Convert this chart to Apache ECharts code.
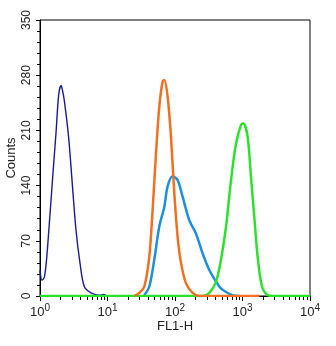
<!DOCTYPE html>
<html>
<head>
<meta charset="utf-8">
<script src="https://cdn.jsdelivr.net/npm/echarts@6/dist/echarts.min.js"></script>
<style>
  html, body { margin: 0; padding: 0; background: #fff; }
  #chart { width: 336px; height: 346px; }
</style>
</head>
<body>
<div id="chart"></div>
<script>
// values (FL1-H, counts)
var navyX = [1, 1.07, 1.16, 1.25, 1.41, 1.57, 1.73, 1.89, 2.05, 2.14, 2.29, 2.65, 2.98, 3.41, 3.91, 4.53, 5.7, 7.56, 8.67, 9.9];
var navyY = [33, 20, 24, 46, 105, 160, 208, 255, 267, 262, 248, 202, 147, 84, 42, 12, 4, 1, 2, 0];

var orangeX = [24.9, 29.6, 35.1, 41.6, 46.6, 52.3, 58.5, 65.5, 69.4, 77.7, 87.2, 97.7, 109.4, 122.8, 145.6, 182.4, 229, 1775];
var orangeY = [0, 4, 12, 50, 109, 181, 240, 272, 274, 253, 202, 130, 75, 42, 16, 4, 0, 0];

var skyX = [35.1, 41.6, 49.3, 58.5, 69.4, 77.7, 92.1, 109.4, 129.6, 163, 204.8, 256.6, 322, 453, 507, 706, 897];
var skyY = [1, 12, 46, 88, 113, 139, 152, 147, 126, 96, 79, 54, 33, 12, 8, 1, 0];

var greenX = [1, 256.6, 322, 405, 480, 570, 676, 801, 950, 1028, 1191, 1336, 1496, 1675, 1945, 2355, 3135, 10000];
var greenY = [0, 0, 4, 18, 46, 88, 147, 193, 217, 219, 202, 151, 100, 50, 12, 1, 0, 0];

var decadeTicks = [1, 10, 100, 1000, 10000];
var minorTicks = [2, 3, 4, 5, 6, 7, 8, 9, 20, 30, 40, 50, 60, 70, 80, 90,
    200, 300, 400, 500, 600, 700, 800, 900, 2000, 3000, 4000, 5000, 6000, 7000, 8000, 9000];
var countTicks = [0, 70, 140, 210, 280, 350];

function pairs(xs, ys) {
    return xs.map(function(x, i) { return [x, ys[i]]; });
}

var font = 'Liberation Sans';

var myChart = echarts.init(document.getElementById('chart'));

myChart.setOption({
    animation: false,
    grid: {
        left: 40, right: 26, top: 20, bottom: 50,
        outerBoundsMode: 'none',
        containLabel: false,
        show: true, borderColor: '#000', borderWidth: 1
    },
    xAxis: [{
        type: 'log',
        logBase: 10,
        min: 1,
        max: 10000,
        name: 'FL1-H',
        nameLocation: 'middle',
        nameGap: 24,
        nameMoveOverlap: false,
        nameTextStyle: { fontFamily: font, fontSize: 13, color: '#222' },
        axisLine: { lineStyle: { color: '#000', width: 1 } },
        axisTick: { show: true, length: 5, customValues: decadeTicks, lineStyle: { color: '#000' } },
        splitLine: { show: false },
        axisLabel: {
            customValues: decadeTicks,
            margin: 7,
            formatter: function(v) {
                return '{b|10}{s|' + Math.round(Math.log10(v)) + '}';
            },
            rich: {
                b: { fontFamily: font, fontSize: 13, color: '#222' },
                s: { fontFamily: font, fontSize: 10, color: '#222', padding: [0, 0, 9, 0] }
            }
        }
    }, {
        type: 'log',
        logBase: 10,
        min: 1,
        max: 10000,
        position: 'bottom',
        axisLine: { show: false },
        axisLabel: { show: false },
        splitLine: { show: false },
        axisTick: { show: true, length: 4, customValues: minorTicks, lineStyle: { color: '#000' } }
    }],
    yAxis: {
        type: 'value',
        min: 0,
        max: 350,
        interval: 70,
        name: 'Counts',
        nameLocation: 'middle',
        nameGap: 22,
        nameMoveOverlap: false,
        nameTextStyle: { fontFamily: font, fontSize: 13, color: '#222' },
        axisLine: { show: true, lineStyle: { color: '#000', width: 1 } },
        axisTick: { show: true, length: 4, lineStyle: { color: '#000' } },
        minorTick: { show: true, splitNumber: 5, length: 3, lineStyle: { color: '#000' } },
        splitLine: { show: false },
        axisLabel: {
            customValues: countTicks,
            rotate: 90,
            margin: 7,
            fontFamily: font,
            fontSize: 12,
            color: '#222'
        }
    },
    series: [{
        type: 'line', name: 'navy', data: pairs(navyX, navyY),
        showSymbol: false, smooth: 0.3,
        lineStyle: { color: '#1a1a96', width: 1.4 }
    }, {
        type: 'line', name: 'sky', data: pairs(skyX, skyY),
        showSymbol: false, smooth: 0.3,
        lineStyle: { color: '#1e8fdc', width: 2.5 }
    }, {
        type: 'line', name: 'green', data: pairs(greenX, greenY),
        showSymbol: false, smooth: 0.3,
        lineStyle: { color: '#2ee02e', width: 2.5 }
    }, {
        type: 'line', name: 'orange', data: pairs(orangeX, orangeY),
        showSymbol: false, smooth: 0.3,
        lineStyle: { color: '#ee7020', width: 2.5 }
    }]
});
</script>
</body>
</html>
